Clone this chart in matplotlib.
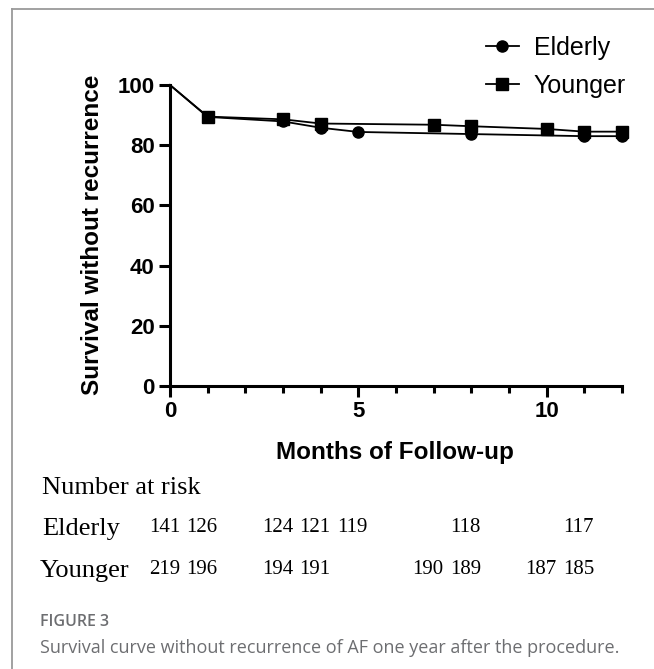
import matplotlib
matplotlib.use("Agg")
import matplotlib.pyplot as plt
from matplotlib.lines import Line2D
import matplotlib.transforms as mtransforms

# ---- data ----
months_elderly = [0, 1, 3, 4, 5, 8, 11, 12]
surv_elderly = [100, 89.4, 87.9, 85.8, 84.4, 83.7, 83.0, 83.0]
months_younger = [0, 1, 3, 4, 7, 8, 10, 11, 12]
surv_younger = [100, 89.5, 88.6, 87.2, 86.8, 86.3, 85.4, 84.5, 84.5]

risk_months_elderly = [0, 1, 3, 4, 5, 8, 11]
risk_elderly = [141, 126, 124, 121, 119, 118, 117]
risk_months_younger = [0, 1, 3, 4, 7, 8, 10, 11]
risk_younger = [219, 196, 194, 191, 190, 189, 187, 185]

x_ticks = [0, 5, 10]
y_ticks = [0, 20, 40, 60, 80, 100]

W, H = 654, 669
fig = plt.figure(figsize=(W / 100, H / 100), dpi=100)

def fx(px):
    return px / W

def fy(py):
    return 1 - py / H

ax = fig.add_axes([fx(170), fy(386), fx(622) - fx(170), fy(85) - fy(386)])
ax.set_xlim(0, 12)
ax.set_ylim(0, 100)

sans_b = dict(family="Liberation Sans", weight="bold")

ax.plot(months_elderly, surv_elderly, color="black", lw=1.3, marker="o", ms=8,
        markevery=list(range(1, len(months_elderly))), clip_on=False, zorder=3)
ax.plot(months_younger, surv_younger, color="black", lw=1.3, marker="s", ms=8,
        markevery=list(range(1, len(months_younger))), clip_on=False, zorder=3)

for s in ["top", "right"]:
    ax.spines[s].set_visible(False)
for s in ["left", "bottom"]:
    ax.spines[s].set_linewidth(2.2)

ax.set_xticks(x_ticks)
ax.set_xticks(range(0, 13), minor=True)
ax.set_yticks(y_ticks)
ax.tick_params(axis="both", which="major", width=2.2, length=8, pad=3, labelsize=16)
ax.tick_params(axis="x", which="minor", width=2.2, length=5)
for lab in ax.get_xticklabels() + ax.get_yticklabels():
    lab.set_fontfamily("Liberation Sans")
    lab.set_fontweight("bold")

fig.text(fx(93), fy(235), "Survival without recurrence", rotation=90, ha="center",
         va="center", fontsize=17.5, **sans_b)
fig.text(fx(395), fy(453), "Months of Follow-up", ha="center", va="center",
         fontsize=17.5, **sans_b)

# legend
handles = [
    Line2D([], [], color="black", lw=1.3, marker="o", ms=8),
    Line2D([], [], color="black", lw=1.3, marker="s", ms=8),
]
fig.legend(handles, ["Elderly", "Younger"], loc="upper left",
           bbox_to_anchor=(fx(486), fy(36)), frameon=False,
           prop=dict(family="Liberation Sans", size=18), handlelength=1.3,
           handletextpad=0.6, labelspacing=0.55, borderpad=0, borderaxespad=0)

# number at risk table
serif = "Liberation Serif"
fig.text(fx(42), fy(488), "Number at risk", ha="left", va="center", fontsize=19,
         family=serif)
fig.text(fx(42), fy(529), "Elderly", ha="left", va="center", fontsize=19, family=serif)
fig.text(fx(40), fy(571), "Younger", ha="left", va="center", fontsize=19, family=serif)

trans = mtransforms.blended_transform_factory(ax.transData, fig.transFigure)
for m, n in zip(risk_months_elderly, risk_elderly):
    fig.text(m - 0.15, fy(527), str(n), ha="center", va="center", fontsize=15,
             family=serif, transform=trans)
for m, n in zip(risk_months_younger, risk_younger):
    fig.text(m - 0.15, fy(570), str(n), ha="center", va="center", fontsize=15,
             family=serif, transform=trans)

# caption
fig.text(fx(40), fy(622), "FIGURE 3", ha="left", va="center", fontsize=11.5,
         family="Open Sans", weight="semibold", color="#6d6e71")
fig.text(fx(40), fy(648), "Survival curve without recurrence of AF one year after the procedure.",
         ha="left", va="center", fontsize=13, family="Open Sans", color="#6d6e71")

# frame
fig.add_artist(Line2D([fx(12), fx(12)], [fy(9), 0], color="#9a9a9a", lw=1.3,
                      transform=fig.transFigure))
fig.add_artist(Line2D([fx(12), 1], [fy(9), fy(9)], color="#9a9a9a", lw=1.3,
                      transform=fig.transFigure))

fig.savefig("out.png", dpi=100)
